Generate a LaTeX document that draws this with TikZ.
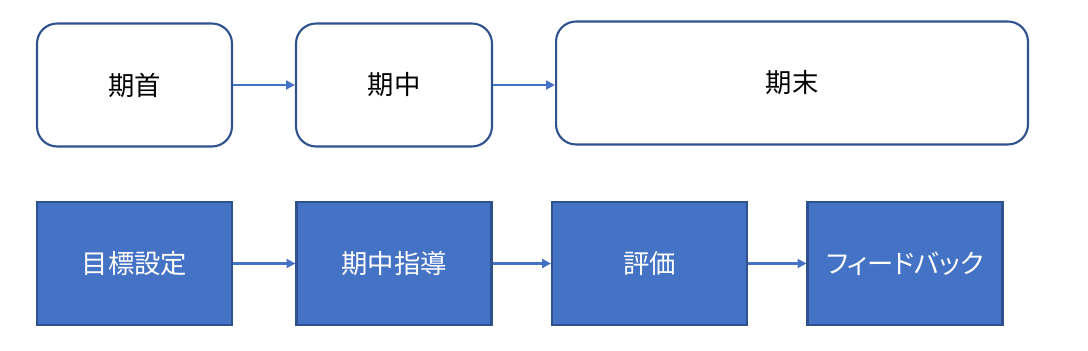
\documentclass[tikz,border=0pt]{standalone}
\usepackage{fontspec}
\newfontfamily\jpfont{Noto Sans CJK JP}
\newfontfamily\jpkana[RawFeature=+palt]{Noto Sans CJK JP}
\usetikzlibrary{positioning, arrows.meta}
\definecolor{edgeblue}{HTML}{2F528F}
\definecolor{fillblue}{HTML}{4472C4}

\begin{document}
\begin{tikzpicture}[x=0.02cm, y=-0.02cm,
    phase/.style={draw=edgeblue, line width=1.2pt, rounded corners=0.4cm, fill=white,
        minimum height=2.46cm, font=\jpfont\fontsize{15}{18}\selectfont},
    task/.style={draw=edgeblue, line width=1.2pt, fill=fillblue, text=white,
        minimum width=3.9cm, minimum height=2.46cm, font=\jpfont\fontsize{15}{18}\selectfont},
    flow/.style={draw=fillblue, line width=1.2pt, -{Triangle[length=5pt, width=5pt]}},
]
\useasboundingbox (0,0) rectangle (1088,351);

\node[phase, minimum width=3.9cm]  (start) at (134.5,85) {期首};
\node[phase, minimum width=3.92cm] (mid)   at (394,85)   {期中};
\node[phase, minimum width=9.44cm] (end)   at (792,83)   {期末};

\node[task] (goal)     at (134.5,263.5) {目標設定};
\node[task] (coach)    at (394,263.5)   {期中指導};
\node[task] (eval)     at (649.5,263.5) {評価};
\node[task, font=\jpkana\fontsize{15}{18}\selectfont] (feedback) at (905,263.5) {フィードバック};

\draw[flow] (start.east) -- (mid.west);
\draw[flow] (mid.east) -- (mid.east -| end.west);

\draw[flow] (goal.east) -- (coach.west);
\draw[flow] (coach.east) -- (eval.west);
\draw[flow] (eval.east) -- (feedback.west);
\end{tikzpicture}
\end{document}
